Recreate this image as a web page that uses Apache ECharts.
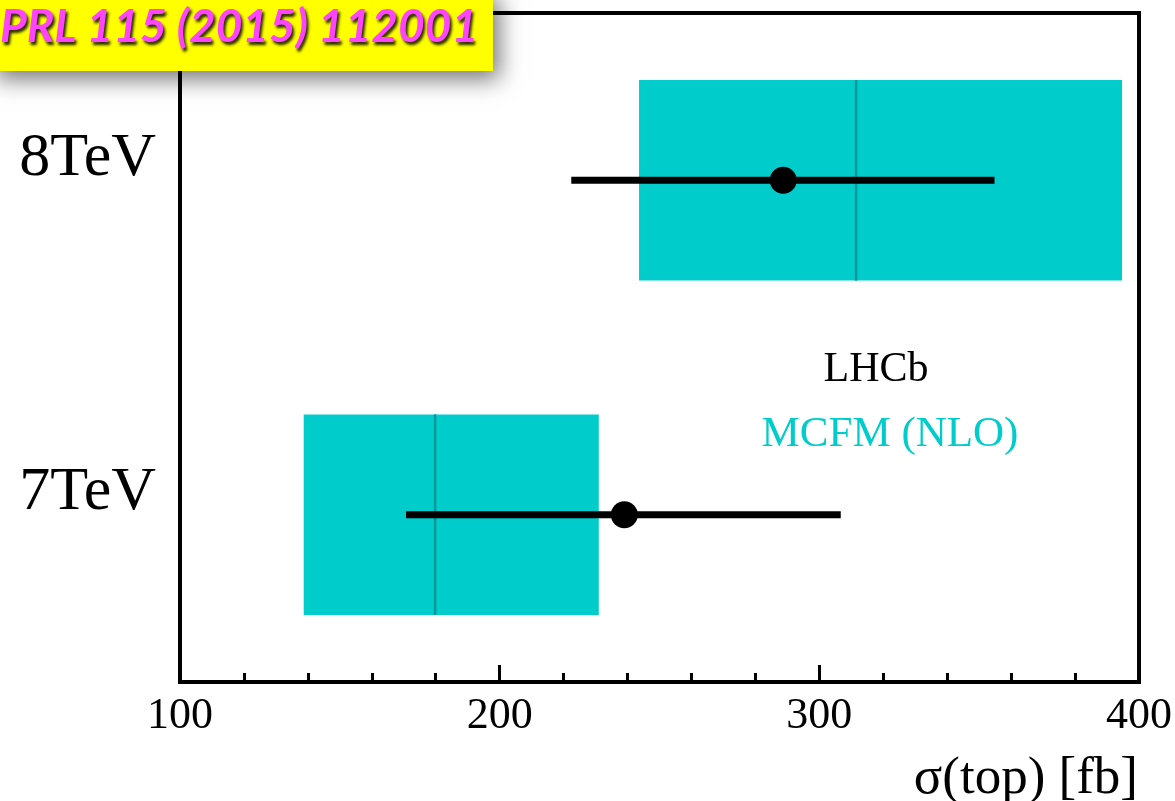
<!DOCTYPE html>
<html>
<head>
<meta charset="utf-8">
<title>σ(top) LHCb</title>
<script src="https://cdn.jsdelivr.net/npm/echarts@6/dist/echarts.min.js"></script>
<style>
  html, body { margin: 0; padding: 0; background: #fff; }
  #chart { width: 1175px; height: 801px; }
</style>
</head>
<body>
<div id="chart"></div>
<script>
// Collision energies (y categories, bottom to top)
const energies = ['7TeV', '8TeV'];

// LHCb measurement: central value and total uncertainty range [fb]
const measured = [239.0, 288.7];
const measuredLow = [170.7, 222.4];
const measuredHigh = [306.7, 354.8];

// MCFM (NLO) prediction: central value and uncertainty band [fb]
const theoryCentral = [179.8, 311.5];
const theoryLow = [138.7, 243.6];
const theoryHigh = [231.0, 394.7];

// x-axis range and major tick step
const xMin = 100, xMax = 400, xStep = 100;

const serif = '"Liberation Serif", "DejaVu Serif", serif';
const cyan = '#00CCCC';

const bandData = energies.map((e, i) => [i, theoryLow[i], theoryHigh[i], theoryCentral[i]]);
const errData = energies.map((e, i) => [i, measuredLow[i], measuredHigh[i]]);
const pointData = energies.map((e, i) => [measured[i], i]);

const chart = echarts.init(document.getElementById('chart'), null, { renderer: 'canvas' });

chart.setOption({
  animation: false,
  backgroundColor: '#fff',
  grid: {
    left: 180, right: 33, top: 13, bottom: 119,
    show: true, borderColor: '#000', borderWidth: 4, backgroundColor: 'transparent'
  },
  xAxis: {
    type: 'value',
    min: xMin, max: xMax, interval: xStep,
    axisLine: { show: true, lineStyle: { color: '#000', width: 4 } },
    axisTick: { show: true, inside: true, length: 17, lineStyle: { color: '#000', width: 3 } },
    minorTick: { show: true, splitNumber: 5, length: 9, lineStyle: { color: '#000', width: 3 } },
    splitLine: { show: false },
    axisLabel: {
      color: '#000', fontFamily: serif, fontSize: 44, margin: 12,
      showMinLabel: true, showMaxLabel: true
    }
  },
  yAxis: {
    type: 'category',
    data: energies,
    boundaryGap: true,
    axisLine: { show: true, lineStyle: { color: '#000', width: 4 } },
    axisTick: { show: false },
    splitLine: { show: false },
    axisLabel: {
      color: '#000', fontFamily: serif, fontSize: 62, margin: 24,
      verticalAlign: 'bottom', lineHeight: 44
    }
  },
  series: [
    {
      // theory band with central line
      type: 'custom',
      data: bandData,
      encode: { x: [1, 2, 3], y: 0 },
      z: 1,
      renderItem: function (params, api) {
        const idx = api.value(0);
        const lo = api.coord([api.value(1), idx]);
        const hi = api.coord([api.value(2), idx]);
        const mid = api.coord([api.value(3), idx]);
        const bandH = api.size([0, 1])[1] * 0.6;
        return {
          type: 'group',
          children: [
            {
              type: 'rect',
              shape: { x: lo[0], y: lo[1] - bandH / 2, width: hi[0] - lo[0], height: bandH },
              style: { fill: cyan }
            },
            {
              type: 'line',
              shape: { x1: mid[0], y1: lo[1] - bandH / 2, x2: mid[0], y2: lo[1] + bandH / 2 },
              style: { stroke: '#009999', lineWidth: 2.5 }
            }
          ]
        };
      }
    },
    {
      // measurement error bars
      type: 'custom',
      data: errData,
      encode: { x: [1, 2], y: 0 },
      z: 2,
      renderItem: function (params, api) {
        const idx = api.value(0);
        const lo = api.coord([api.value(1), idx]);
        const hi = api.coord([api.value(2), idx]);
        return {
          type: 'line',
          shape: { x1: lo[0], y1: lo[1], x2: hi[0], y2: hi[1] },
          style: { stroke: '#000', lineWidth: 7 }
        };
      }
    },
    {
      // measured central values
      type: 'scatter',
      data: pointData,
      symbol: 'circle',
      symbolSize: 27,
      itemStyle: { color: '#000', opacity: 1 },
      z: 3
    }
  ],
  graphic: [
    {
      type: 'text',
      x: 1138, y: 779,
      style: {
        text: 'σ(top) [fb]', font: '53px ' + serif, fill: '#000',
        align: 'right', verticalAlign: 'middle'
      }
    },
    {
      type: 'text',
      x: 876, y: 370,
      style: { text: 'LHCb', font: '42px ' + serif, fill: '#000', align: 'center', verticalAlign: 'middle' }
    },
    {
      type: 'text',
      x: 890, y: 435,
      style: { text: 'MCFM (NLO)', font: '43px ' + serif, fill: cyan, align: 'center', verticalAlign: 'middle' }
    },
    {
      type: 'rect',
      zlevel: 1,
      shape: { x: -10, y: -10, width: 503, height: 81 },
      style: {
        fill: '#FFFF00',
        shadowBlur: 22, shadowColor: 'rgba(0,0,0,0.55)', shadowOffsetX: 6, shadowOffsetY: 8
      }
    },
    {
      type: 'text',
      zlevel: 1,
      z: 10,
      x: 0, y: 27,
      style: {
        text: 'PRL 115 (2015) 112001',
        font: 'italic bold 46px Lato, "Open Sans", sans-serif',
        fill: '#FF44FF',
        verticalAlign: 'middle',
        textShadowColor: 'rgba(0,0,0,0.85)', textShadowBlur: 3,
        textShadowOffsetX: 2, textShadowOffsetY: 3
      }
    }
  ]
});
</script>
</body>
</html>
